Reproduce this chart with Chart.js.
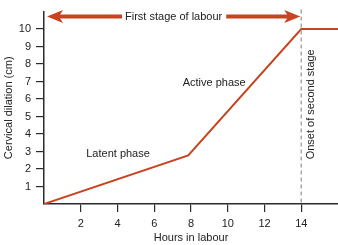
<!DOCTYPE html>
<html>
<head>
<meta charset="utf-8">
<script src="https://cdn.jsdelivr.net/npm/chart.js@4.4.0/dist/chart.umd.min.js"></script>
<style>
  html, body { margin: 0; padding: 0; background: #fff; }
  #wrap { width: 338px; height: 245px; position: relative; }
</style>
</head>
<body>
<div id="wrap"><canvas id="chart"></canvas></div>
<script>
"use strict";

// Cervical dilation vs hours in labour
const hours = [0, 7.85, 14, 16];
const dilation = [0, 2.78, 10, 10];
const xTicks = [2, 4, 6, 8, 10, 12, 14];
const yTicks = [1, 2, 3, 4, 5, 6, 7, 8, 9, 10];
const secondStageAt = 14;
const arrowLevel = 10.72;
const phaseLabels = [
    { text: 'Active phase', x: 9.26, y: 6.93 },
    { text: 'Latent phase', x: 4.03, y: 2.85 }
];

const RED = '#c8431f';
const AXIS = '#2b2b2b';
const FONT = "'Liberation Sans', Arial, sans-serif";

const annotations = {
    id: 'annotations',
    afterDatasetsDraw(chart) {
        const { ctx, chartArea, scales: { x, y } } = chart;
        const xs = x.getPixelForValue(secondStageAt);

        ctx.save();
        // dashed marker for onset of second stage
        ctx.strokeStyle = '#a8a8a8';
        ctx.lineWidth = 1.5;
        ctx.setLineDash([4, 3]);
        ctx.beginPath();
        ctx.moveTo(xs, chartArea.top - 2);
        ctx.lineTo(xs, chartArea.bottom);
        ctx.stroke();
        ctx.setLineDash([]);

        ctx.fillStyle = '#222';
        ctx.font = '11px ' + FONT;
        ctx.textAlign = 'center';
        ctx.textBaseline = 'middle';
        phaseLabels.forEach(l => {
            ctx.fillText(l.text, x.getPixelForValue(l.x), y.getPixelForValue(l.y));
        });

        ctx.save();
        ctx.translate(x.getPixelForValue(14.55), y.getPixelForValue(5.7));
        ctx.rotate(-Math.PI / 2);
        ctx.fillText('Onset of second stage', 0, 0);
        ctx.restore();

        // double arrow with caption
        const ay = y.getPixelForValue(arrowLevel);
        const x0 = x.getPixelForValue(0) + 3;
        const x1 = xs - 1;
        const label = 'First stage of labour';
        const mid = (x0 + x1) / 2;
        const tw = ctx.measureText(label).width;
        ctx.fillText(label, mid, ay);

        ctx.strokeStyle = RED;
        ctx.fillStyle = RED;
        ctx.lineWidth = 4;
        ctx.beginPath();
        ctx.moveTo(x0 + 10, ay);
        ctx.lineTo(mid - tw / 2 - 3, ay);
        ctx.moveTo(mid + tw / 2 + 4, ay);
        ctx.lineTo(x1 - 10, ay);
        ctx.stroke();

        ctx.beginPath();
        ctx.moveTo(x0, ay);
        ctx.lineTo(x0 + 16, ay - 6.5);
        ctx.lineTo(x0 + 12, ay);
        ctx.lineTo(x0 + 16, ay + 6.5);
        ctx.closePath();
        ctx.fill();

        ctx.beginPath();
        ctx.moveTo(x1, ay);
        ctx.lineTo(x1 - 16, ay - 6.5);
        ctx.lineTo(x1 - 12, ay);
        ctx.lineTo(x1 - 16, ay + 6.5);
        ctx.closePath();
        ctx.fill();
        ctx.restore();
    }
};

new Chart(document.getElementById('chart'), {
    type: 'line',
    data: {
        datasets: [{
            data: hours.map((h, i) => ({ x: h, y: dilation[i] })),
            borderColor: RED,
            borderWidth: 2,
            pointRadius: 0,
            tension: 0,
            fill: false
        }]
    },
    options: {
        responsive: true,
        maintainAspectRatio: false,
        animation: false,
        layout: { padding: { top: 7, right: 0, left: 0, bottom: 0 } },
        plugins: { legend: { display: false }, tooltip: { enabled: false } },
        scales: {
            x: {
                type: 'linear',
                min: 0,
                max: 16,
                afterBuildTicks: s => { s.ticks = xTicks.map(v => ({ value: v })); },
                afterFit: s => { s.height = 41; },
                border: { display: true, color: AXIS, width: 1.5 },
                grid: { drawOnChartArea: false, drawTicks: true, tickLength: 8, color: AXIS, lineWidth: 1.2 },
                ticks: { color: '#222', font: { family: FONT, size: 11 }, padding: 5, maxRotation: 0 },
                title: { display: true, text: 'Hours in labour', color: '#222', font: { family: FONT, size: 11 }, padding: { top: 0, bottom: 0 } }
            },
            y: {
                type: 'linear',
                min: 0,
                max: 11,
                afterBuildTicks: s => { s.ticks = yTicks.map(v => ({ value: v })); },
                afterFit: s => { s.width = 44; },
                border: { display: true, color: AXIS, width: 1.5 },
                grid: { drawOnChartArea: false, drawTicks: true, tickLength: 8, color: AXIS, lineWidth: 1.2 },
                ticks: { color: '#222', font: { family: FONT, size: 11 }, padding: 5 },
                title: { display: true, text: 'Cervical dilation (cm)', color: '#222', font: { family: FONT, size: 11 }, padding: { top: 2, bottom: 0 } }
            }
        }
    },
    plugins: [annotations]
});
</script>
</body>
</html>
